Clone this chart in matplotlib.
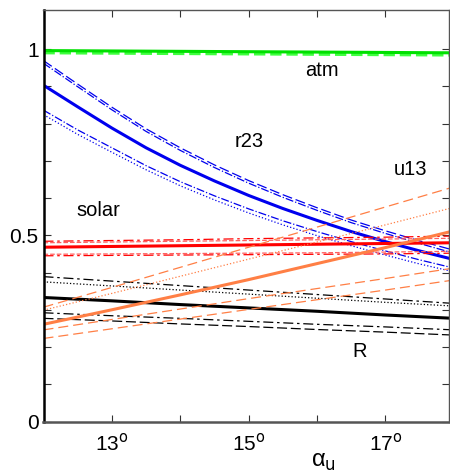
import matplotlib
matplotlib.use("Agg")
from matplotlib import pyplot as plt

plt.rcParams['font.family'] = ['Liberation Sans', 'DejaVu Sans']

# mixing angle alpha_u (degrees)
alpha = [12, 13, 14, 15, 16, 17, 18]
alpha_fine = [12, 12.5, 13, 13.5, 14, 14.5, 15, 15.5, 16, 16.5, 17, 17.5, 18]

# atm (green)
atm = [0.996, 0.995, 0.994, 0.993, 0.992, 0.991, 0.990]
atm_b = [0.990, 0.989, 0.988, 0.987, 0.986, 0.985, 0.984]

# r23 (blue), on alpha_fine
r23 = [0.903, 0.845, 0.788, 0.735, 0.688, 0.646, 0.607, 0.572, 0.540, 0.510, 0.483, 0.458, 0.435]
r23_hi1 = [0.969, 0.906, 0.844, 0.786, 0.735, 0.689, 0.647, 0.609, 0.574, 0.541, 0.512, 0.485, 0.460]
r23_hi2 = [0.962, 0.899, 0.837, 0.779, 0.728, 0.682, 0.640, 0.602, 0.567, 0.534, 0.505, 0.478, 0.452]
r23_lo1 = [0.836, 0.783, 0.735, 0.687, 0.644, 0.606, 0.571, 0.539, 0.510, 0.483, 0.458, 0.434, 0.412]
r23_lo2 = [0.824, 0.771, 0.723, 0.676, 0.633, 0.595, 0.560, 0.528, 0.499, 0.472, 0.447, 0.423, 0.402]

# solar (red)
solar = [0.468, 0.470, 0.472, 0.474, 0.476, 0.478, 0.480]
solar_hi1 = [0.484, 0.486, 0.488, 0.491, 0.493, 0.495, 0.498]
solar_hi2 = [0.480, 0.482, 0.484, 0.486, 0.488, 0.490, 0.492]
solar_lo1 = [0.445, 0.446, 0.447, 0.448, 0.449, 0.450, 0.452]
solar_lo2 = [0.449, 0.450, 0.451, 0.452, 0.453, 0.455, 0.457]

# u13 (orange)
u13 = [0.261, 0.300, 0.340, 0.381, 0.424, 0.467, 0.512]
u13_hi1 = [0.307, 0.360, 0.414, 0.468, 0.522, 0.576, 0.630]
u13_hi2 = [0.299, 0.344, 0.390, 0.436, 0.482, 0.528, 0.575]
u13_lo1 = [0.246, 0.274, 0.302, 0.330, 0.357, 0.384, 0.412]
u13_lo2 = [0.223, 0.249, 0.275, 0.301, 0.327, 0.353, 0.380]

# R (black)
R = [0.333, 0.324, 0.314, 0.305, 0.296, 0.286, 0.277]
R_hi1 = [0.389, 0.377, 0.365, 0.353, 0.341, 0.329, 0.317]
R_hi2 = [0.375, 0.364, 0.353, 0.342, 0.331, 0.320, 0.310]
R_lo1 = [0.292, 0.284, 0.277, 0.269, 0.261, 0.254, 0.246]
R_lo2 = [0.277, 0.270, 0.262, 0.255, 0.247, 0.240, 0.232]

green = '#00e000'
blue = '#0000ee'
red = '#ff0000'
pink = '#ff6060'
orange = '#ff7f45'

fig = plt.figure(figsize=(4.5, 4.75), dpi=100)
ax = fig.add_axes([43.5/450, 1 - 421.5/475, (449 - 43.5)/450, (421.5 - 10)/475])

thin = 0.9
thick = 2.2

ax.plot(alpha, atm_b, '--', color='#40ff40', lw=thick)
ax.plot(alpha, atm, '-', color=green, lw=thick)

ax.plot(alpha_fine, r23, '-', color=blue, lw=thick)
ax.plot(alpha_fine, r23_hi1, '--', color=blue, lw=thin, dashes=(8, 3))
ax.plot(alpha_fine, r23_hi2, '-.', color=blue, lw=thin)
ax.plot(alpha_fine, r23_lo1, '-.', color=blue, lw=thin)
ax.plot(alpha_fine, r23_lo2, ':', color=blue, lw=thin)

ax.plot(alpha, solar_hi2, '--', color=pink, lw=thin)
ax.plot(alpha, solar_hi1, '-.', color=red, lw=thin, dashes=(8, 3, 2, 3))
ax.plot(alpha, solar_lo2, '--', color=pink, lw=thin)
ax.plot(alpha, solar_lo1, '-.', color=red, lw=thin, dashes=(8, 3, 2, 3))
ax.plot(alpha, solar, '-', color=red, lw=thick)

ax.plot(alpha, R, '-', color='black', lw=thick)
ax.plot(alpha, R_hi1, '-.', color='black', lw=thin, dashes=(8, 3, 2, 3))
ax.plot(alpha, R_hi2, ':', color='black', lw=thin)
ax.plot(alpha, R_lo1, '-.', color='black', lw=thin, dashes=(8, 3, 2, 3))
ax.plot(alpha, R_lo2, '--', color='black', lw=thin, dashes=(8, 3))

ax.plot(alpha, u13, '-', color=orange, lw=thick)
ax.plot(alpha, u13_hi1, '--', color=orange, lw=thin, dashes=(8, 4))
ax.plot(alpha, u13_hi2, ':', color=orange, lw=thin)
ax.plot(alpha, u13_lo1, '--', color=orange, lw=thin, dashes=(8, 4))
ax.plot(alpha, u13_lo2, '--', color=orange, lw=thin, dashes=(8, 4))

ax.text(15.82, 0.927, 'atm', fontsize=14.5)
ax.text(14.8, 0.737, 'r23', fontsize=14.5)
ax.text(17.12, 0.662, 'u13', fontsize=14.5)
ax.text(12.48, 0.552, 'solar', fontsize=14.5)
ax.text(16.52, 0.174, 'R', fontsize=14.5)

ax.set_xlim(12, 17.93)
ax.set_ylim(0, 1.105)
ax.set_xticks([13, 14, 15, 16, 17])
ax.set_xticklabels([r'13$^{\rm o}$', '', r'15$^{\rm o}$', '', r'17$^{\rm o}$'])
ax.set_yticks([i / 10 for i in range(11)])
ax.set_yticklabels(['0', '', '', '', '', '0.5', '', '', '', '', '1'])
ax.tick_params(direction='in', length=5, top=True, right=True, labelsize=15, color='#333333')
ax.tick_params(axis='x', pad=8)
ax.set_xlabel(r'α$_{\rm u}$', fontsize=17)
ax.xaxis.set_label_coords(0.69, -0.072)

for s in ['top', 'right']:
    ax.spines[s].set_color('#555555')
    ax.spines[s].set_linewidth(1.0)
ax.spines['left'].set_linewidth(1.8)
ax.spines['bottom'].set_linewidth(1.8)
ax.spines['bottom'].set_color('#555555')

fig.savefig('out.png', dpi=100)
